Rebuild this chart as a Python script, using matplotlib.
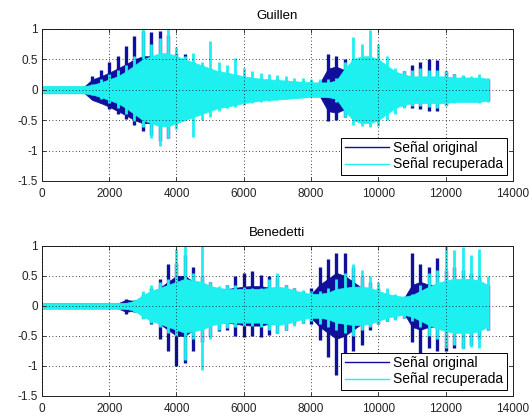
import numpy as np
import matplotlib
matplotlib.use("Agg")
import matplotlib.pyplot as plt

plt.rcParams['font.family'] = ['Liberation Sans', 'DejaVu Sans']

# sample index of each reading (every 250 samples)
muestras = np.arange(0, 13251, 250)

# ---- Guillen ----
# peaks of the original / recovered signal (upper and lower)
guillen_orig_hi = [0.05, 0.05, 0.05, 0.05, 0.05, 0.06, 0.22, 0.33, 0.45, 0.55,
                   0.72, 0.88, 0.97, 0.95, 0.97, 0.9, 0.6, 0.58, 0.45, 0.4,
                   0.35, 0.3, 0.28, 0.25, 0.22, 0.2, 0.2, 0.18, 0.17, 0.16,
                   0.15, 0.15, 0.15, 0.15, 0.58, 0.55, 0.5, 0.5, 0.5, 0.5,
                   0.45, 0.35, 0.25, 0.3, 0.4, 0.45, 0.5, 0.48, 0.3, 0.25,
                   0.22, 0.2, 0.2, 0.18]
guillen_orig_lo = [-0.05, -0.05, -0.05, -0.05, -0.05, -0.05, -0.15, -0.22, -0.32, -0.4,
                   -0.48, -0.58, -0.68, -0.75, -0.85, -0.8, -0.5, -0.45, -0.4, -0.35,
                   -0.3, -0.28, -0.25, -0.22, -0.2, -0.18, -0.16, -0.15, -0.14, -0.13,
                   -0.12, -0.11, -0.1, -0.1, -0.52, -0.5, -0.45, -0.45, -0.45, -0.45,
                   -0.4, -0.35, -0.3, -0.28, -0.3, -0.32, -0.35, -0.35, -0.25, -0.2,
                   -0.18, -0.18, -0.2, -0.18]
guillen_rec_hi = [0.06, 0.06, 0.06, 0.06, 0.06, 0.06, 0.1, 0.18, 0.25, 0.32,
                  0.4, 0.55, 1.0, 0.75, 0.85, 1.0, 0.7, 0.55, 0.6, 0.45,
                  0.8, 0.45, 0.4, 0.52, 0.35, 0.3, 0.28, 0.25, 0.24, 0.22,
                  0.2, 0.2, 0.18, 0.17, 0.18, 0.2, 0.45, 0.87, 0.75, 0.98,
                  0.75, 0.55, 0.35, 0.3, 0.32, 0.35, 0.33, 0.33, 0.3, 0.26,
                  0.24, 0.22, 0.25, 0.2]
guillen_rec_lo = [-0.06, -0.06, -0.06, -0.06, -0.06, -0.06, -0.08, -0.15, -0.22, -0.3,
                  -0.4, -0.52, -0.62, -0.8, -0.92, -0.8, -0.65, -0.5, -0.78, -0.5,
                  -0.45, -0.35, -0.3, -0.28, -0.25, -0.22, -0.2, -0.18, -0.17, -0.15,
                  -0.13, -0.12, -0.11, -0.1, -0.12, -0.2, -0.45, -0.58, -0.6, -0.62,
                  -0.6, -0.5, -0.4, -0.3, -0.26, -0.27, -0.28, -0.3, -0.27, -0.22,
                  -0.2, -0.2, -0.22, -0.2]
# dense body (half width) of each signal
guillen_orig_body = [0.05, 0.05, 0.05, 0.05, 0.05, 0.05, 0.17, 0.22, 0.28, 0.35,
                     0.42, 0.5, 0.55, 0.55, 0.55, 0.5, 0.42, 0.35, 0.3, 0.28,
                     0.25, 0.22, 0.2, 0.18, 0.16, 0.15, 0.14, 0.13, 0.12, 0.12,
                     0.11, 0.1, 0.1, 0.1, 0.35, 0.38, 0.32, 0.3, 0.3, 0.3,
                     0.28, 0.25, 0.2, 0.18, 0.15, 0.15, 0.15, 0.15, 0.15, 0.14,
                     0.14, 0.14, 0.14, 0.12]
guillen_rec_body = [0.06, 0.06, 0.06, 0.06, 0.06, 0.06, 0.08, 0.12, 0.17, 0.22,
                    0.3, 0.4, 0.5, 0.55, 0.6, 0.6, 0.55, 0.5, 0.45, 0.4,
                    0.35, 0.3, 0.28, 0.25, 0.22, 0.2, 0.18, 0.17, 0.16, 0.15,
                    0.14, 0.13, 0.12, 0.12, 0.12, 0.15, 0.35, 0.5, 0.55, 0.55,
                    0.5, 0.4, 0.3, 0.25, 0.22, 0.22, 0.22, 0.22, 0.22, 0.2,
                    0.2, 0.2, 0.2, 0.18]

# ---- Benedetti ----
benedetti_orig_hi = [0.04, 0.04, 0.04, 0.04, 0.04, 0.04, 0.04, 0.04, 0.04, 0.04,
                     0.12, 0.1, 0.2, 0.3, 0.45, 0.7, 0.72, 0.85, 0.65, 0.5,
                     0.4, 0.3, 0.35, 0.5, 0.55, 0.58, 0.52, 0.5, 0.48, 0.35,
                     0.3, 0.25, 0.3, 0.65, 0.78, 0.88, 0.88, 0.65, 0.5, 0.4,
                     0.3, 0.22, 0.18, 0.15, 0.88, 0.7, 0.65, 0.8, 0.6, 0.65,
                     0.6, 0.55, 0.5, 0.35]
benedetti_orig_lo = [-0.04, -0.04, -0.04, -0.04, -0.04, -0.04, -0.04, -0.04, -0.04, -0.04,
                     -0.13, -0.1, -0.2, -0.3, -0.55, -0.75, -1.0, -0.95, -0.75, -0.6,
                     -0.5, -0.42, -0.4, -0.5, -0.52, -0.5, -0.52, -0.48, -0.45, -0.4,
                     -0.3, -0.28, -0.3, -0.57, -0.85, -1.15, -1.25, -0.75, -0.65, -0.4,
                     -0.3, -0.25, -0.22, -0.2, -0.6, -0.8, -0.7, -0.75, -0.75, -0.7,
                     -0.7, -0.65, -0.55, -0.4]
benedetti_rec_hi = [0.055, 0.055, 0.055, 0.055, 0.055, 0.055, 0.055, 0.055, 0.055, 0.055,
                    0.055, 0.1, 0.25, 0.35, 0.4, 0.45, 0.95, 1.0, 0.55, 1.0,
                    0.4, 0.33, 0.35, 0.35, 0.32, 0.3, 0.3, 0.45, 0.55, 0.35,
                    0.3, 0.26, 0.24, 0.25, 0.3, 0.45, 0.55, 0.7, 0.6, 0.5,
                    0.4, 0.3, 0.2, 0.17, 0.2, 0.35, 0.55, 0.6, 1.0, 0.93,
                    0.98, 0.85, 0.95, 0.5]
benedetti_rec_lo = [-0.055, -0.055, -0.055, -0.055, -0.055, -0.055, -0.055, -0.055, -0.055, -0.055,
                    -0.055, -0.1, -0.22, -0.28, -0.35, -0.45, -0.5, -0.9, -0.55, -1.07,
                    -0.55, -0.4, -0.37, -0.35, -0.33, -0.33, -0.35, -0.4, -0.45, -0.4,
                    -0.33, -0.28, -0.25, -0.3, -0.35, -0.4, -0.45, -0.5, -0.4, -0.35,
                    -0.3, -0.25, -0.23, -0.2, -0.25, -0.35, -0.5, -0.55, -0.7, -0.65,
                    -0.72, -0.68, -0.7, -0.4]
benedetti_orig_body = [0.04, 0.04, 0.04, 0.04, 0.04, 0.04, 0.04, 0.04, 0.04, 0.04,
                       0.1, 0.08, 0.15, 0.2, 0.3, 0.4, 0.5, 0.5, 0.4, 0.35,
                       0.3, 0.28, 0.28, 0.3, 0.32, 0.33, 0.33, 0.3, 0.3, 0.25,
                       0.2, 0.18, 0.2, 0.35, 0.45, 0.55, 0.5, 0.4, 0.3, 0.25,
                       0.2, 0.18, 0.15, 0.12, 0.35, 0.4, 0.35, 0.35, 0.35, 0.35,
                       0.35, 0.3, 0.3, 0.25]
benedetti_rec_body = [0.05, 0.05, 0.05, 0.05, 0.05, 0.05, 0.05, 0.05, 0.05, 0.05,
                      0.05, 0.08, 0.18, 0.25, 0.3, 0.35, 0.4, 0.45, 0.42, 0.4,
                      0.33, 0.3, 0.28, 0.28, 0.28, 0.28, 0.28, 0.3, 0.32, 0.3,
                      0.26, 0.22, 0.2, 0.2, 0.22, 0.28, 0.3, 0.32, 0.32, 0.3,
                      0.25, 0.2, 0.17, 0.15, 0.18, 0.25, 0.32, 0.38, 0.42, 0.45,
                      0.45, 0.45, 0.42, 0.35]

titulos = ['Guillen', 'Benedetti']
etiquetas = ['Señal original', 'Señal recuperada']
xticks = [0, 2000, 4000, 6000, 8000, 10000, 12000, 14000]
yticks = [-1.5, -1, -0.5, 0, 0.5, 1]
ytick_labels = ['-1.5', '-1', '-0.5', '0', '0.5', '1']

azul = '#10109c'
cian = '#1ef0f0'

fig = plt.figure(figsize=(5.3, 4.18), dpi=100)
ax1 = fig.add_axes([0.079, 0.567, 0.889, 0.364])
ax2 = fig.add_axes([0.079, 0.053, 0.889, 0.359])

datos = [(guillen_orig_hi, guillen_orig_lo, guillen_orig_body,
          guillen_rec_hi, guillen_rec_lo, guillen_rec_body),
         (benedetti_orig_hi, benedetti_orig_lo, benedetti_orig_body,
          benedetti_rec_hi, benedetti_rec_lo, benedetti_rec_body)]

for ax, titulo, (ohi, olo, obody, rhi, rlo, rbody) in zip([ax1, ax2], titulos, datos):
    obody = np.array(obody)
    rbody = np.array(rbody)
    # original underneath: dense body + spikes
    ax.fill_between(muestras, -obody, obody, color=azul, lw=0.5, zorder=1)
    ax.vlines(muestras, olo, ohi, color=azul, lw=2.4, zorder=1.1)
    # recuperada on top
    ax.fill_between(muestras, -rbody, rbody, color=cian, lw=0.5, zorder=1.5)
    ax.vlines(muestras, rlo, rhi, color=cian, lw=2.0, zorder=1.6)
    # legend proxies
    ax.plot([], [], color=azul, lw=1, label=etiquetas[0])
    ax.plot([], [], color=cian, lw=1, label=etiquetas[1])

    ax.set_xlim(0, 14000)
    ax.set_ylim(-1.5, 1)
    ax.set_xticks(xticks)
    ax.set_xticklabels([str(t) for t in xticks])
    ax.set_yticks(yticks)
    ax.set_yticklabels(ytick_labels)
    ax.tick_params(direction='in', length=3, labelsize=8.5, top=True, right=True,
                   width=0.6, colors='#222222')
    ax.tick_params(axis='x', pad=5)
    ax.tick_params(axis='y', pad=3)
    ax.grid(True, linestyle=(0, (1, 3)), color='black', linewidth=0.6)
    ax.set_axisbelow(False)
    for s in ax.spines.values():
        s.set_linewidth(0.7)
        s.set_color('#222222')
    ax.set_title(titulo, fontsize=9.5, pad=7)
    leg = ax.legend(loc='lower right', bbox_to_anchor=(0.987, 0.04), fontsize=10,
                    fancybox=False, framealpha=1, edgecolor='black',
                    handlelength=3.2, borderpad=0.25, labelspacing=0.15,
                    handletextpad=0.3, borderaxespad=0)
    leg.get_frame().set_linewidth(0.7)

fig.savefig('out.png', dpi=100)
